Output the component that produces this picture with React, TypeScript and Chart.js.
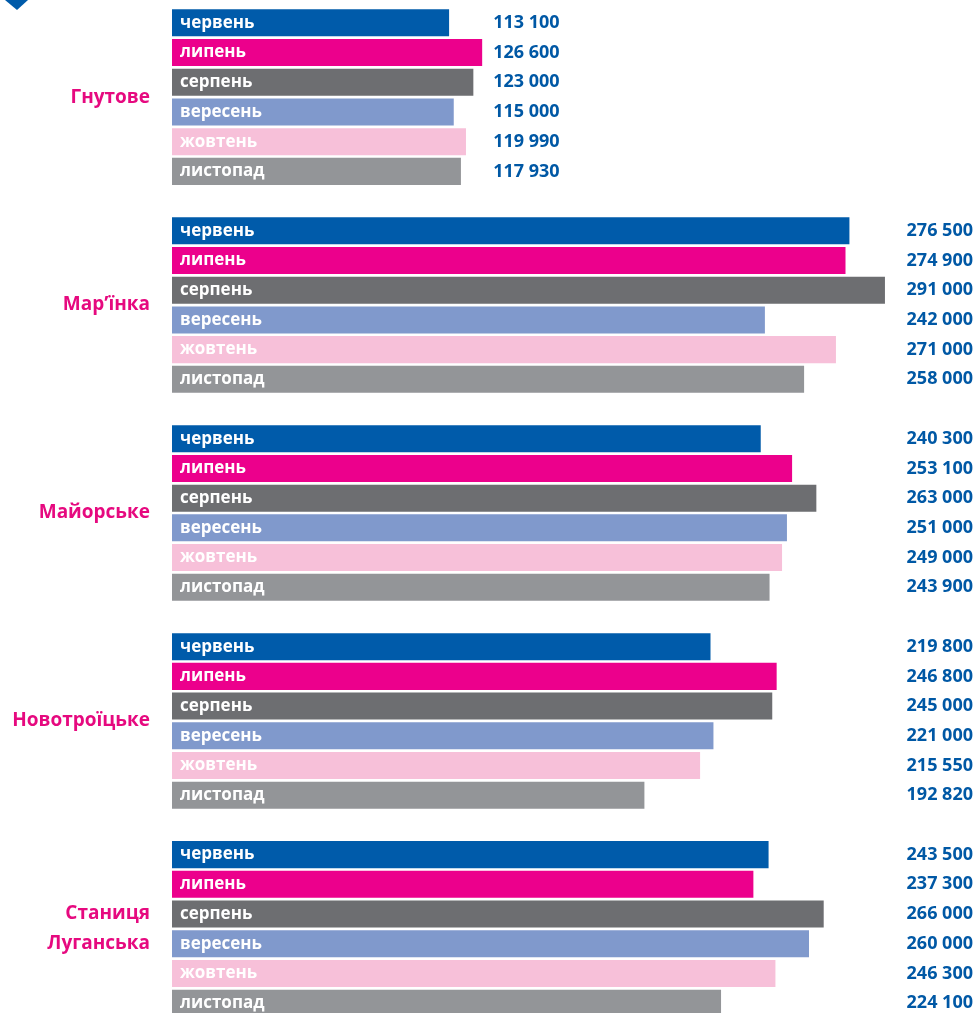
import React, { useEffect, useRef } from "react";
import { Chart, registerables } from "chart.js";

Chart.register(...registerables);

const months = ["червень", "липень", "серпень", "вересень", "жовтень", "листопад"];
const monthColors = ["#005baa", "#ec008c", "#6d6e71", "#8099cc", "#f7c0d9", "#939598"];
const places = ["Гнутове", "Мар’їнка", "Майорське", "Новотроїцьке", "Станиця\nЛуганська"];

const hnutove = [113100, 126600, 123000, 115000, 119990, 117930];
const marinka = [276500, 274900, 291000, 242000, 271000, 258000];
const maiorske = [240300, 253100, 263000, 251000, 249000, 243900];
const novotroitske = [219800, 246800, 245000, 221000, 215550, 192820];
const stanytsia = [243500, 237300, 266000, 260000, 246300, 224100];

const groups = [hnutove, marinka, maiorske, novotroitske, stanytsia];

const fmt = (v: number) => String(v).replace(/\B(?=(\d{3})+(?!\d))/g, " ");

export default function App() {
  const ref = useRef<HTMLCanvasElement | null>(null);
  useEffect(() => {
    if (!ref.current) return;
    const labels: string[] = [];
    const data: (number | null)[] = [];
    const colors: string[] = [];
    const rowGroup: number[] = [];
    const rowMonth: number[] = [];
    groups.forEach((g, gi) => {
      g.forEach((v, mi) => {
        labels.push(months[mi]);
        data.push(v);
        colors.push(monthColors[mi]);
        rowGroup.push(gi);
        rowMonth.push(mi);
      });
      if (gi < groups.length - 1) {
        labels.push("");
        data.push(null);
        colors.push("rgba(0,0,0,0)");
        rowGroup.push(-1);
        rowMonth.push(-1);
      }
    });

    const overlay = {
      id: "overlay",
      afterDatasetsDraw(chart: any) {
        const ctx = chart.ctx;
        const meta = chart.getDatasetMeta(0);
        ctx.save();
        ctx.fillStyle = "#005baa";
        ctx.beginPath();
        ctx.moveTo(5, 0);
        ctx.lineTo(28, 0);
        ctx.lineTo(17, 10);
        ctx.closePath();
        ctx.fill();

        groups.forEach((g, gi) => {
          const bars: any[] = [];
          meta.data.forEach((bar: any, i: number) => {
            if (rowGroup[i] === gi) bars.push({ bar, mi: rowMonth[i], v: data[i] });
          });
          let maxEnd = 0;
          bars.forEach(({ bar }) => (maxEnd = Math.max(maxEnd, bar.x)));
          bars.forEach(({ bar, mi, v }) => {
            ctx.fillStyle = "#ffffff";
            ctx.font = "bold 17px 'Open Sans'";
            ctx.textAlign = "left";
            ctx.textBaseline = "middle";
            ctx.fillText(months[mi], bar.base + 8, bar.y);
            ctx.fillStyle = "#0058a5";
            ctx.font = "bold 18px 'Open Sans'";
            if (gi === 0) {
              ctx.textAlign = "left";
              ctx.fillText(fmt(v), maxEnd + 11, bar.y);
            } else {
              ctx.textAlign = "right";
              ctx.fillText(fmt(v), chart.width - 3, bar.y);
            }
          });
          const cy = (bars[0].bar.y + bars[bars.length - 1].bar.y) / 2;
          const lines = places[gi].split("\n");
          ctx.fillStyle = "#e6097f";
          ctx.font = "bold 19px 'Open Sans'";
          ctx.textAlign = "right";
          ctx.textBaseline = "middle";
          const lh = 30;
          lines.forEach((ln, li) => {
            ctx.fillText(ln, 150, cy + (li - (lines.length - 1) / 2) * lh);
          });
        });
        ctx.restore();
      },
    };

    const chart = new Chart(ref.current, {
      type: "bar",
      data: {
        labels,
        datasets: [
          {
            data,
            backgroundColor: colors,
            borderWidth: 0,
            barPercentage: 0.91,
            categoryPercentage: 1,
          },
        ],
      },
      options: {
        indexAxis: "y",
        responsive: false,
        animation: false,
        devicePixelRatio: 1,
        layout: { padding: { left: 172, right: 20, top: 8, bottom: 22 } },
        plugins: { legend: { display: false }, tooltip: { enabled: false } },
        scales: {
          x: { display: false, min: 0, max: 320000, grid: { display: false } },
          y: { display: false, grid: { display: false } },
        },
      },
      plugins: [overlay],
    } as any);
    return () => chart.destroy();
  }, []);

  return (
    <div
      style={{
        position: "fixed",
        left: 0,
        top: 0,
        width: 976,
        height: 1013,
        overflow: "hidden",
        background: "#ffffff",
      }}
    >
      <canvas ref={ref} width={976} height={1040} style={{ display: "block" }} />
    </div>
  );
}
